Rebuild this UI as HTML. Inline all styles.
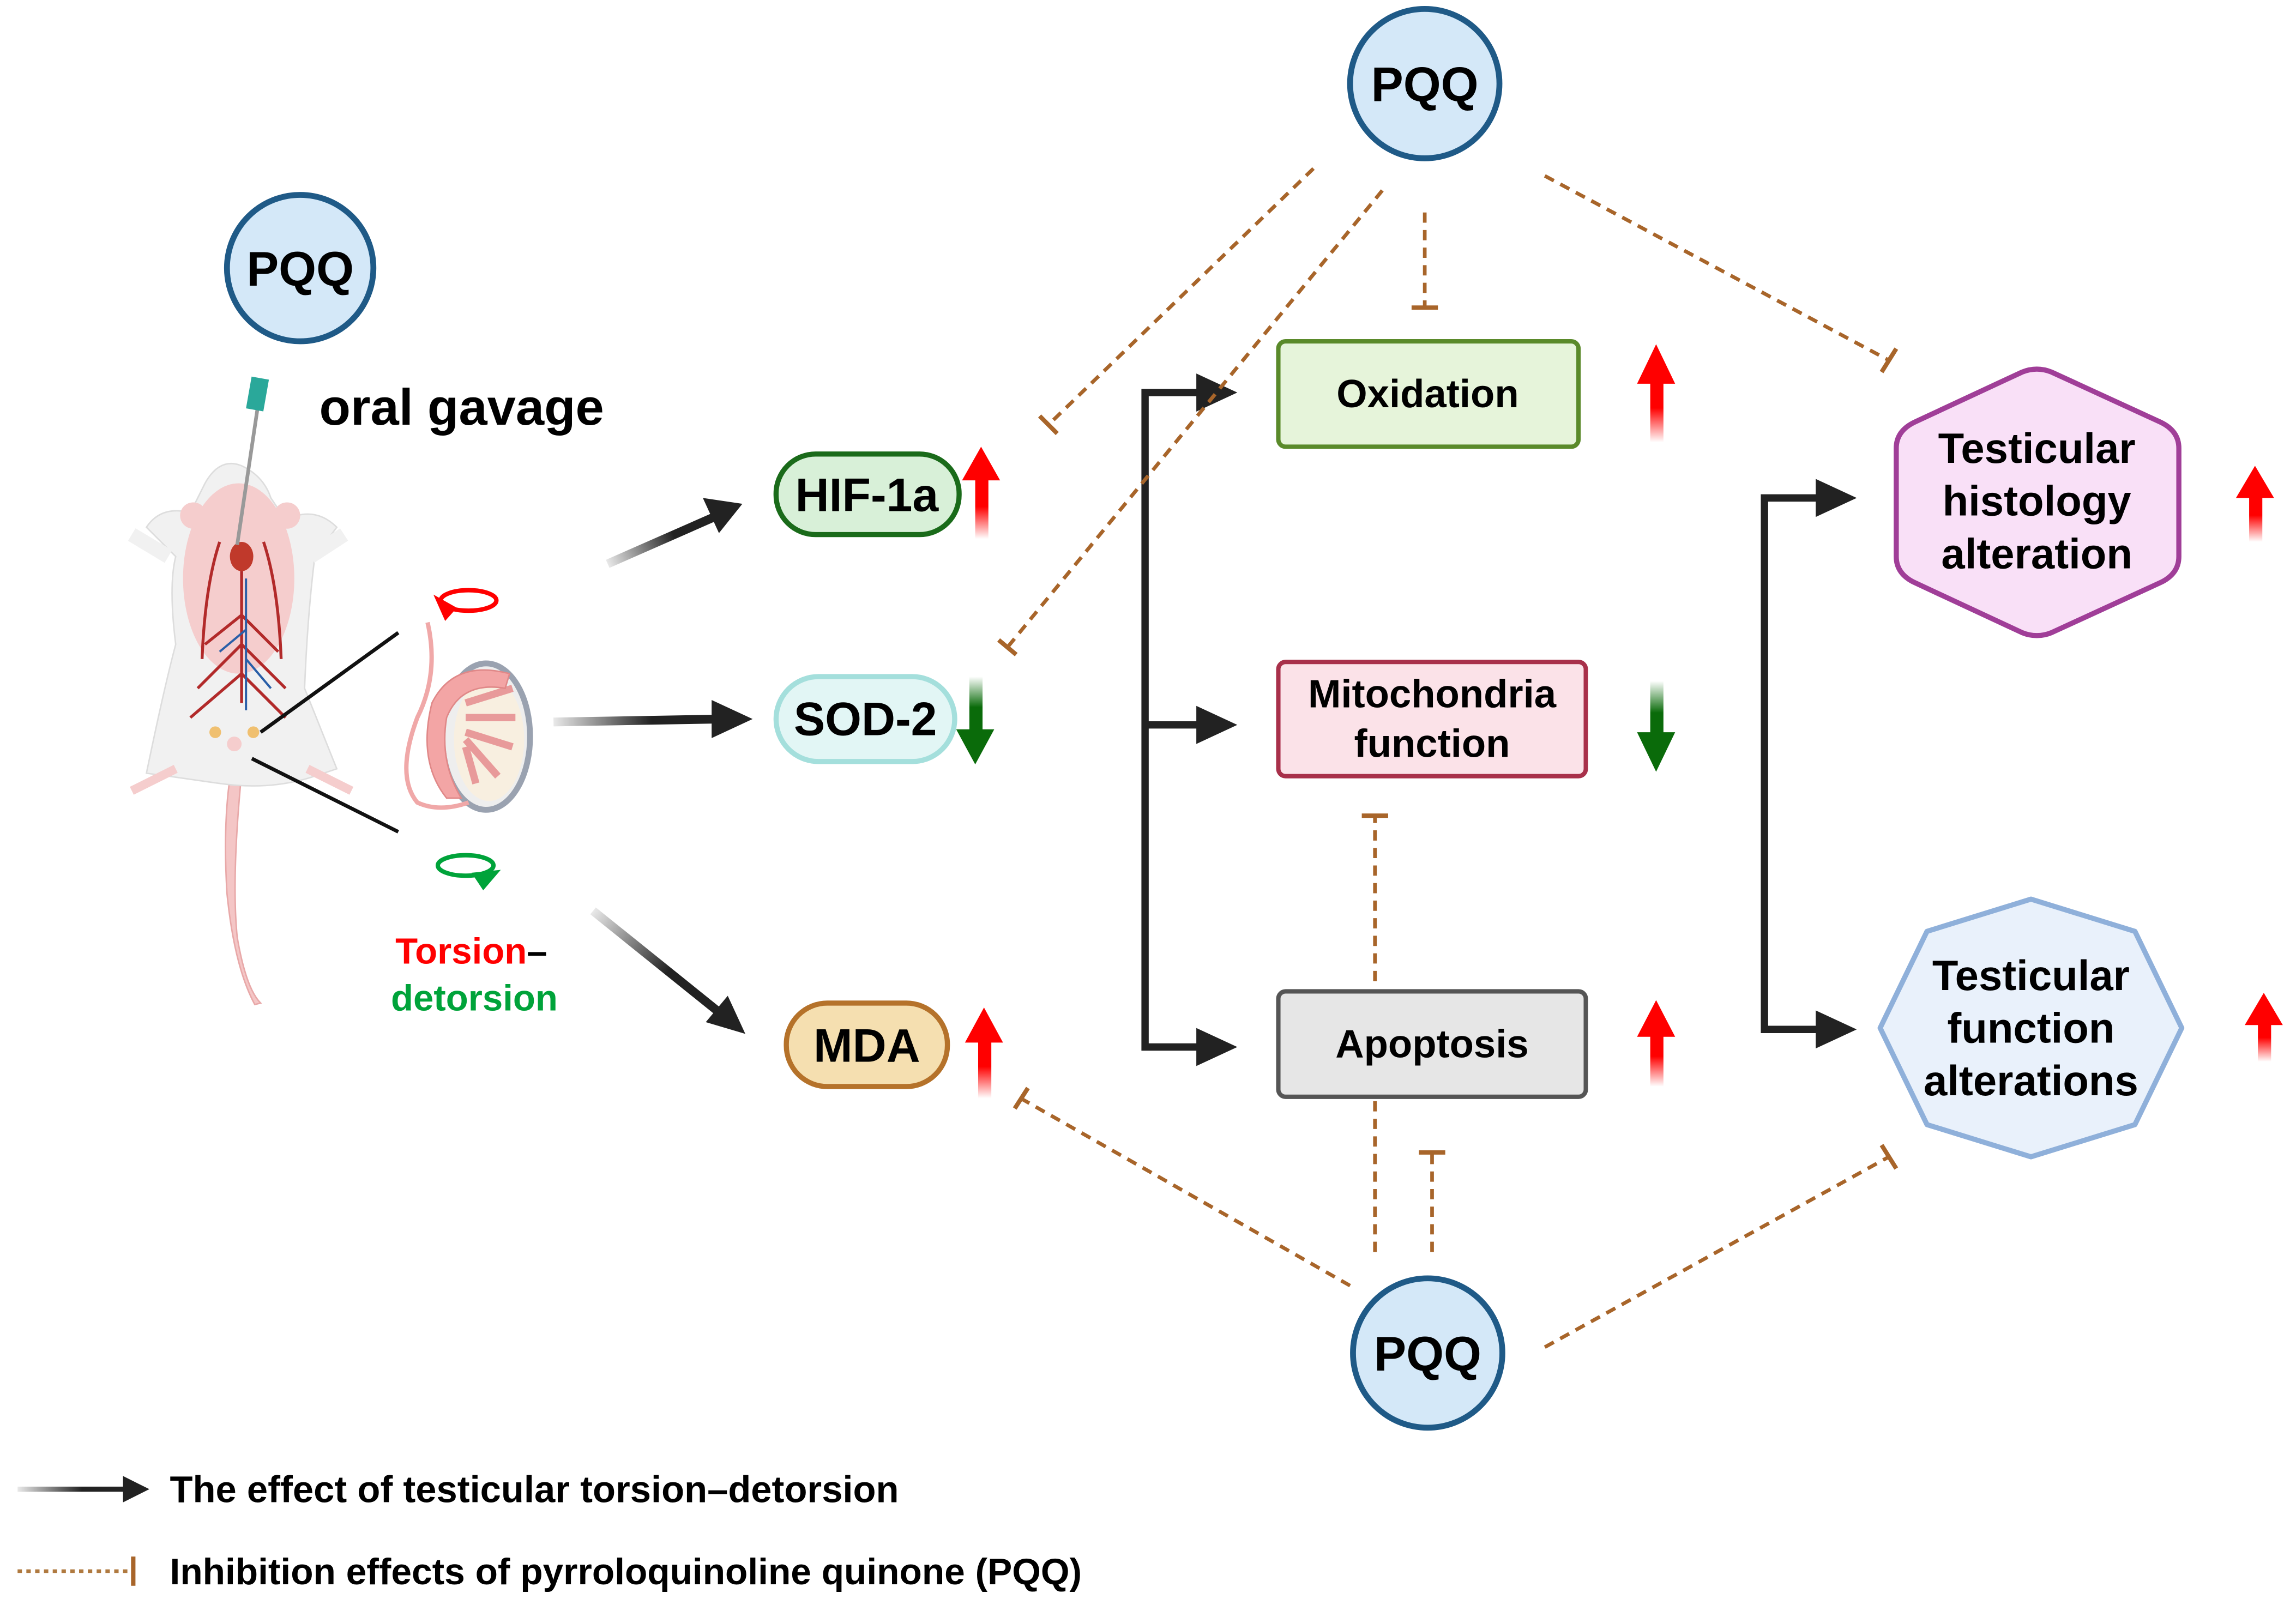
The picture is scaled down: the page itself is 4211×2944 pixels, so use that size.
<!DOCTYPE html>
<html><head><meta charset="utf-8"><style>
html,body{margin:0;padding:0;background:#fff;}
svg{display:block;}
text{font-family:"Liberation Sans",sans-serif;font-weight:bold;}
</style></head><body>
<svg width="4211" height="2944" viewBox="0 0 1568 1096" xmlns="http://www.w3.org/2000/svg">
<defs>
<linearGradient id="gu" x1="0" y1="1" x2="0" y2="0"><stop offset="0" stop-color="#ff0000" stop-opacity="0"/><stop offset="0.35" stop-color="#ff0000"/><stop offset="1" stop-color="#ff0000"/></linearGradient>
<linearGradient id="gd" x1="0" y1="0" x2="0" y2="1"><stop offset="0" stop-color="#0a6b0a" stop-opacity="0"/><stop offset="0.35" stop-color="#0a6b0a"/><stop offset="1" stop-color="#0a6b0a"/></linearGradient>
<linearGradient id="gb1" gradientUnits="userSpaceOnUse" x1="415" y1="385" x2="505" y2="345"><stop offset="0" stop-color="#222" stop-opacity="0.1"/><stop offset="0.5" stop-color="#222"/></linearGradient>
<linearGradient id="gb2" gradientUnits="userSpaceOnUse" x1="378" y1="493" x2="512" y2="491"><stop offset="0" stop-color="#222" stop-opacity="0.1"/><stop offset="0.5" stop-color="#222"/></linearGradient>
<linearGradient id="gb3" gradientUnits="userSpaceOnUse" x1="405" y1="622" x2="508" y2="705"><stop offset="0" stop-color="#222" stop-opacity="0.1"/><stop offset="0.5" stop-color="#222"/></linearGradient>
<linearGradient id="gb4" gradientUnits="userSpaceOnUse" x1="12" y1="0" x2="100" y2="0"><stop offset="0" stop-color="#222" stop-opacity="0.1"/><stop offset="0.5" stop-color="#222"/></linearGradient>
</defs>

<!-- PQQ circles -->
<g stroke="#1f5a87" stroke-width="4" fill="#d4e8f8">
<circle cx="205" cy="183" r="50"/>
<circle cx="973" cy="57" r="51"/>
<circle cx="975" cy="924" r="51"/>
</g>
<g font-size="33" text-anchor="middle" fill="#000">
<text x="205" y="195">PQQ</text>
<text x="973" y="69">PQQ</text>
<text x="975" y="936">PQQ</text>
</g>
<text x="218" y="290" font-size="35">oral gavage</text>

<!-- mouse -->
<g>
<path d="M165 528 Q158 600 162 640 Q168 675 178 685 L174 686 Q160 660 155 610 Q152 560 158 525 Z" fill="#f4c6c6" stroke="#e8a8a8" stroke-width="1"/>
<path d="M140 330 Q150 312 165 318 Q180 325 185 340 L195 355 Q215 345 230 360 L215 380 Q210 420 208 470 L230 525 L215 530 Q185 540 150 535 L115 530 L100 528 Q112 470 120 440 Q115 400 120 380 L100 360 Q110 345 130 350 Z" fill="#f1f1f1" stroke="#ddd" stroke-width="1"/>
<ellipse cx="163" cy="395" rx="38" ry="65" fill="#f5cdcd"/>
<circle cx="132" cy="352" r="9" fill="#f5cdcd"/><circle cx="196" cy="352" r="9" fill="#f5cdcd"/>
<path d="M165 390 L165 480 M165 420 L140 440 M165 420 L190 445 M165 440 L135 470 M165 440 L195 470 M165 460 L130 490 M165 460 L195 490 M150 370 Q140 400 138 450 M180 370 Q190 400 192 450" stroke="#b22a2a" stroke-width="2" fill="none"/>
<path d="M168 395 L168 485 M168 430 L150 445 M168 450 L185 470" stroke="#2a5fa8" stroke-width="1.5" fill="none"/>
<ellipse cx="165" cy="380" rx="8" ry="10" fill="#c0392b"/>
<path d="M115 380 L90 365 M212 380 L235 365" stroke="#f1f1f1" stroke-width="10"/>
<path d="M120 525 L90 540 M210 525 L240 540" stroke="#f5cdcd" stroke-width="6"/>
<circle cx="160" cy="508" r="5" fill="#f5cdcd"/><circle cx="147" cy="500" r="4" fill="#f0c070"/><circle cx="173" cy="500" r="4" fill="#f0c070"/>
</g>
<!-- syringe -->
<line x1="176" y1="278" x2="162" y2="372" stroke="#999" stroke-width="2.5"/>
<rect x="170" y="258" width="12" height="22" fill="#2aa89a" transform="rotate(10 176 268)"/>
<line x1="178" y1="500" x2="272" y2="432" stroke="#111" stroke-width="2.5"/>
<line x1="172" y1="518" x2="272" y2="568" stroke="#111" stroke-width="2.5"/>
<!-- testis -->
<ellipse cx="332" cy="503" rx="30" ry="50" fill="#eeeeee" stroke="#9aa2b0" stroke-width="4"/>
<ellipse cx="334" cy="505" rx="24" ry="42" fill="#f8efe0"/>
<g stroke="#e89a9a" stroke-width="5">
<line x1="318" y1="480" x2="350" y2="470"/><line x1="318" y1="490" x2="352" y2="490"/><line x1="318" y1="500" x2="350" y2="510"/><line x1="318" y1="505" x2="340" y2="530"/><line x1="318" y1="510" x2="325" y2="535"/>
</g>
<path d="M348 460 Q310 450 295 480 Q285 520 305 545 L315 545 Q300 520 305 490 Q315 465 345 470 Z" fill="#f3a5a5" stroke="#e08888" stroke-width="1"/>
<path d="M292 425 Q300 460 285 490 Q270 530 285 548 Q300 555 320 548" fill="none" stroke="#f0a8a8" stroke-width="3"/>
<!-- circular arrows -->
<ellipse cx="320" cy="410" rx="19" ry="7" fill="none" stroke="#ff0000" stroke-width="3"/>
<path d="M296 406 L312 415 L304 424 Z" fill="#ff0000"/>
<ellipse cx="318" cy="591" rx="19" ry="7" fill="none" stroke="#00a33a" stroke-width="3"/>
<path d="M322 596 L342 594 L330 608 Z" fill="#00a33a"/>
<text x="270" y="658" font-size="25" fill="#ff0000">Torsion<tspan fill="#000">–</tspan></text>
<text x="267" y="690" font-size="25" fill="#00a33a">detorsion</text>

<!-- black arrows from left -->
<line x1="415" y1="385" x2="490" y2="352" stroke="url(#gb1)" stroke-width="6"/>
<path d="M507 344 L480 340 L491 364 Z" fill="#222"/>
<line x1="378" y1="493" x2="492" y2="491" stroke="url(#gb2)" stroke-width="6"/>
<path d="M514 491 L486 478 L486 504 Z" fill="#222"/>
<line x1="405" y1="622" x2="492" y2="692" stroke="url(#gb3)" stroke-width="6"/>
<path d="M509 706 L482 698 L497 680 Z" fill="#222"/>

<!-- pills -->
<rect x="530" y="310" width="125" height="55" rx="27" fill="#d8f0d8" stroke="#1a6b1a" stroke-width="3.5"/>
<text x="592" y="349" font-size="32" text-anchor="middle">HIF-1a</text>
<rect x="530" y="462" width="122" height="58" rx="29" fill="#e2f6f5" stroke="#a4dfdc" stroke-width="3.5"/>
<text x="591" y="502" font-size="32" text-anchor="middle">SOD-2</text>
<rect x="537" y="685" width="110" height="57" rx="28" fill="#f5dfb0" stroke="#b5722a" stroke-width="3.5"/>
<text x="592" y="725" font-size="32" text-anchor="middle">MDA</text>

<!-- boxes -->
<rect x="873" y="233" width="205" height="72" rx="5" fill="#e6f4da" stroke="#5a8a2a" stroke-width="3"/>
<text x="975" y="278" font-size="27" text-anchor="middle">Oxidation</text>
<rect x="873" y="452" width="210" height="78" rx="5" fill="#fbe2e8" stroke="#a8304a" stroke-width="3"/>
<text x="978" y="483" font-size="27" text-anchor="middle">Mitochondria</text>
<text x="978" y="517" font-size="27" text-anchor="middle">function</text>
<rect x="873" y="677" width="210" height="72" rx="5" fill="#e6e6e6" stroke="#555" stroke-width="3"/>
<text x="978" y="722" font-size="27" text-anchor="middle">Apoptosis</text>

<!-- hexagon -->
<path d="M1391 252 Q1396 252 1401 254 L1475 288 Q1488 294 1488 306 L1488 380 Q1488 392 1475 398 L1401 432 Q1391 436 1381 432 L1308 398 Q1295 392 1295 380 L1295 306 Q1295 294 1308 288 L1381 254 Q1386 252 1391 252 Z" fill="#f9e0f7" stroke="#a03e98" stroke-width="3.5"/>
<text x="1391" y="316" font-size="29" text-anchor="middle">Testicular</text>
<text x="1391" y="352" font-size="29" text-anchor="middle">histology</text>
<text x="1391" y="388" font-size="29" text-anchor="middle">alteration</text>
<!-- octagon-ish -->
<path d="M1387 614 L1458 636 L1490 702 L1458 768 L1387 790 L1316 768 L1284 702 L1316 636 Z" fill="#e9f1fb" stroke="#8fb0da" stroke-width="3.5" stroke-linejoin="round"/>
<text x="1387" y="676" font-size="29" text-anchor="middle">Testicular</text>
<text x="1387" y="712" font-size="29" text-anchor="middle">function</text>
<text x="1387" y="748" font-size="29" text-anchor="middle">alterations</text>

<!-- brackets -->
<g stroke="#222" stroke-width="5" fill="none">
<path d="M822 268 L782 268 L782 715 L822 715"/>
<path d="M782 495 L822 495"/>
<path d="M1245 340 L1205 340 L1205 703 L1245 703"/>
</g>
<g fill="#222">
<path d="M845 268 L817 255 L817 281 Z"/>
<path d="M845 495 L817 482 L817 508 Z"/>
<path d="M845 715 L817 702 L817 728 Z"/>
<path d="M1268 340 L1240 327 L1240 353 Z"/>
<path d="M1268 703 L1240 690 L1240 716 Z"/>
</g>

<!-- up/down arrows -->
<g fill="url(#gu)">
<path d="M666 368 L666 328 L657 328 L670 305 L683 328 L675 328 L675 368 Z"/>
<path d="M1127 302 L1127 262 L1118 262 L1131 235 L1144 262 L1136 262 L1136 302 Z"/>
<path d="M668 750 L668 712 L659 712 L672 688 L685 712 L677 712 L677 750 Z"/>
<path d="M1127 742 L1127 708 L1118 708 L1131 683 L1144 708 L1136 708 L1136 742 Z"/>
<path d="M1536 370 L1536 340 L1527 340 L1540 318 L1553 340 L1545 340 L1545 370 Z"/>
<path d="M1542 725 L1542 700 L1533 700 L1546 678 L1559 700 L1551 700 L1551 725 Z"/>
</g>
<g fill="url(#gd)">
<path d="M662 462 L662 498 L653 498 L666 522 L679 498 L671 498 L671 462 Z"/>
<path d="M1127 465 L1127 500 L1118 500 L1131 527 L1144 500 L1136 500 L1136 465 Z"/>
</g>

<!-- inhibition dashed lines -->
<g stroke="#a8652a" stroke-width="2.5" fill="none" stroke-dasharray="7,5">
<line x1="897" y1="115" x2="716" y2="290"/>
<line x1="944" y1="130" x2="688" y2="442"/>
<line x1="973" y1="145" x2="973" y2="210"/>
<line x1="1055" y1="120" x2="1290" y2="246"/>
<line x1="939" y1="670" x2="939" y2="557"/>
<line x1="939" y1="752" x2="939" y2="855"/>
<line x1="978" y1="855" x2="978" y2="787"/>
<line x1="922" y1="878" x2="697" y2="750"/>
<line x1="1055" y1="920" x2="1290" y2="790"/>
</g>
<g stroke="#a8652a" stroke-width="3">
<line x1="710" y1="284" x2="722" y2="296"/>
<line x1="682" y1="437" x2="694" y2="447"/>
<line x1="964" y1="210" x2="982" y2="210"/>
<line x1="1285" y1="254" x2="1295" y2="238"/>
<line x1="930" y1="557" x2="948" y2="557"/>
<line x1="969" y1="787" x2="987" y2="787"/>
<line x1="693" y1="757" x2="702" y2="743"/>
<line x1="1285" y1="782" x2="1295" y2="798"/>
</g>

<!-- legend -->
<line x1="12" y1="1017" x2="86" y2="1017" stroke="url(#gb4)" stroke-width="3.5"/>
<path d="M102 1017 L84 1008 L84 1026 Z" fill="#222"/>
<text x="116" y="1026" font-size="25.6">The effect of testicular torsion–detorsion</text>
<line x1="12" y1="1073" x2="90" y2="1073" stroke="#b07a40" stroke-width="2.5" stroke-dasharray="3,3"/>
<line x1="91" y1="1063" x2="91" y2="1083" stroke="#a8652a" stroke-width="3"/>
<text x="116" y="1082" font-size="25.2">Inhibition effects of pyrroloquinoline quinone (PQQ)</text>
</svg>
</body></html>
